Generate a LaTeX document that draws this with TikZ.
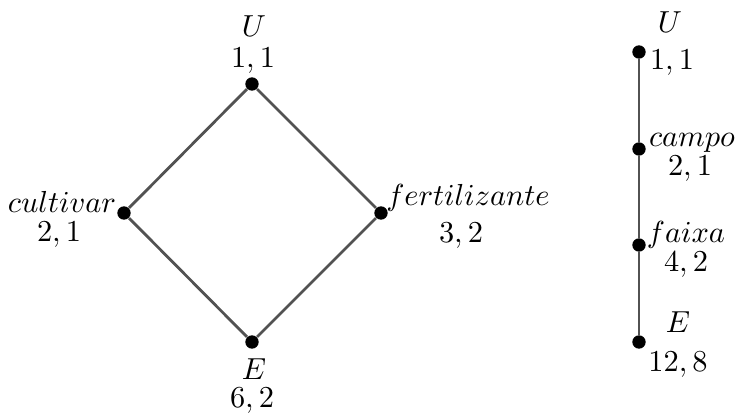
\documentclass[tikz,border=0pt]{standalone}
\begin{document}
\begin{tikzpicture}[x=0.36pt,y=-0.36pt,
  dot/.style={circle,fill=black,inner sep=0pt,minimum size=4.8pt},
  edge/.style={draw=black!68,line width=1pt},
  txt/.style={anchor=base,inner sep=0pt,font=\fontsize{11}{13}\selectfont}]
\useasboundingbox (0,0) rectangle (737,415);
% diamond
\node[dot] (dU) at (252,84) {};
\node[dot] (dC) at (124,213) {};
\node[dot] (dF) at (381,213) {};
\node[dot] (dE) at (252,342) {};
\draw[edge] (dU) -- (dC);
\draw[edge] (dC) -- (dE);
\draw[edge] (dE) -- (dF);
\draw[edge] (dF) -- (dU);
\node[txt] (lU1) at (254,37) {$U$};
\node[txt] (lU2) at (253,68) {$1,1$};
\node[txt] (lC1) at (62,213) {$cultivar$};
\node[txt] (lC2) at (59,242) {$2,1$};
\node[txt] (lF1) at (468,206) {$fertilizante$};
\node[txt] (lF2) at (461,243) {$3,2$};
\node[txt] (lE1) at (254,380) {$E$};
\node[txt] (lE2) at (252,408) {$6,2$};
% chain
\node[dot] (cU) at (639,52) {};
\node[dot] (cC) at (639,149) {};
\node[dot] (cF) at (639,245) {};
\node[dot] (cE) at (639,342) {};
\draw[edge] (cU) -- (cC);
\draw[edge] (cC) -- (cF);
\draw[edge] (cF) -- (cE);
\node[txt] (mU1) at (670,33) {$U$};
\node[txt] (mU2) at (672,70) {$1,1$};
\node[txt] (mC1) at (692,147) {$campo$};
\node[txt] (mC2) at (690,176) {$2,1$};
\node[txt] (mF1) at (686,243) {$faixa$};
\node[txt] (mF2) at (686,272) {$4,2$};
\node[txt] (mE1) at (678,333) {$E$};
\node[txt] (mE2) at (678,372) {$12,8$};
\end{tikzpicture}
\end{document}
